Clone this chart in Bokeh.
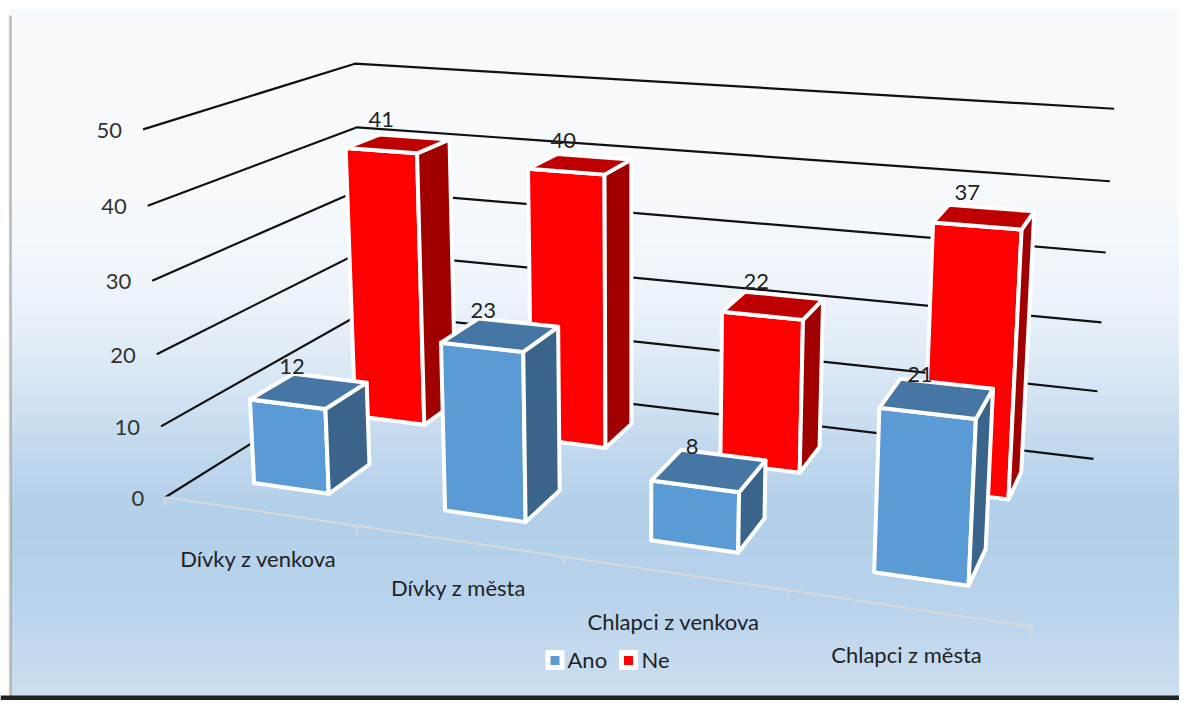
import numpy as np
from bokeh.embed import file_html
from bokeh.models import Range1d
from bokeh.plotting import figure
from bokeh.resources import INLINE
from bokeh.core.properties import value

# ---- data ----
categories = ["Dívky z venkova", "Dívky z města", "Chlapci z venkova", "Chlapci z města"]
ano_values = [12, 23, 8, 21]
ne_values = [41, 40, 22, 37]
series_names = ["Ano", "Ne"]
value_ticks = [0, 10, 20, 30, 40, 50]

# ---- style / layout ----
FONT = "Lato"
W, H = 1179, 700
ANO = dict(front="#5B9BD5", side="#3A6489", top="#4676A3")
NE = dict(front="#FF0000", side="#A00000", top="#BE0000")
X_SPAN = (0.295, 0.695)
Z_ANO = (0.15, 0.355)
Z_NE = (0.66, 0.85)
cat_label_xy = [(258, 558), (458, 587), (673, 621), (906, 654)]

# perspective camera calibrated from the picture: (cat, value, depth) -> (px, py)
calib = [
    ((0, 0, 0), (165, 497)), ((1, 0, 0), (357, 525)), ((2, 0, 0), (562, 556)),
    ((3, 0, 0), (788, 590)), ((4, 0, 0), (1031, 626)), ((0, 10, 0), (160, 426)),
    ((0, 40, 0), (147, 205)), ((0, 50, 0), (143, 129)), ((0, 50, 1), (354, 63)),
    ((0, 40, 1), (357, 127)), ((4, 50, 1), (1114, 108)), ((4, 40, 1), (1109, 181)),
    ((4, 30, 1), (1105, 252)), ((4, 10, 1), (1097, 391)), ((4, 0, 1), (1093, 458)),
]
A, b = [], []
for (cx, cy, cz), (u, v) in calib:
    A.append([cx, cy, cz, 1, 0, 0, 0, 0, -u * cx, -u * cy, -u * cz]); b.append(u)
    A.append([0, 0, 0, 0, cx, cy, cz, 1, -v * cx, -v * cy, -v * cz]); b.append(v)
M = np.linalg.lstsq(np.array(A, float), np.array(b, float), rcond=None)[0]


def proj(cx, cy, cz):
    d = M[8] * cx + M[9] * cy + M[10] * cz + 1
    return ((M[0] * cx + M[1] * cy + M[2] * cz + M[3]) / d,
            (M[4] * cx + M[5] * cy + M[6] * cz + M[7]) / d)


p = figure(width=W, height=H, output_backend="svg", toolbar_location=None,
           x_range=Range1d(0, W), y_range=Range1d(H, 0),
           min_border=0, outline_line_color=None)
p.axis.visible = False
p.grid.visible = False
p.background_fill_color = "white"
p.border_fill_color = "white"

# panel background
stops = [(8, (246, 250, 253)), (200, (246, 250, 253)), (300, (236, 243, 250)), (360, (221, 234, 246)),
         (440, (196, 218, 239)), (510, (178, 208, 234)), (600, (184, 211, 236)), (700, (207, 224, 241))]
sy = np.arange(8, 700, 2)
col = [np.interp(sy, [s[0] for s in stops], [s[1][i] for s in stops]) for i in range(3)]
fills = ["#%02x%02x%02x" % (int(r), int(g), int(bl)) for r, g, bl in zip(*col)]
p.quad(left=11, right=W + 2, top=sy, bottom=696, fill_color=fills, line_color=None)
# shadows
p.quad(left=[8, 9, 10], right=[9, 10, 11], top=15, bottom=696,
       fill_color=["#e4e4e4", "#bcbcbc", "#8f8f8f"], line_color=None)
p.quad(left=0, right=W + 2, top=695, bottom=H + 2, fill_color="#222222", line_color=None)

# walls' gridlines
for t in value_ticks:
    pts = [proj(0, t, 0), proj(0, t, 1), proj(4, t, 1)]
    p.line([a[0] for a in pts], [a[1] for a in pts], line_color="#111111", line_width=2.2)
    x0, y0 = proj(0, t, 0)
    p.text([x0 - 21], [y0 + 1], text=[str(t)], text_font=value(FONT), text_font_size="22px",
           text_color="#333333", text_align="right", text_baseline="middle")

# front category axis
pts = [proj(0, 0, 0), proj(4, 0, 0)]
p.line([a[0] for a in pts], [a[1] for a in pts], line_color="#D9D9D9", line_width=2)
for i in range(5):
    a = proj(i, 0, 0)
    p.line([a[0], a[0]], [a[1], a[1] + 8], line_color="#D9D9D9", line_width=2)


def bar(cat, val, zs, colors):
    x0, x1 = cat + X_SPAN[0], cat + X_SPAN[1]
    z0, z1 = zs
    faces = [
        ([(x0, 0, z0), (x1, 0, z0), (x1, val, z0), (x0, val, z0)], colors["front"]),
        ([(x1, 0, z0), (x1, 0, z1), (x1, val, z1), (x1, val, z0)], colors["side"]),
        ([(x0, val, z0), (x1, val, z0), (x1, val, z1), (x0, val, z1)], colors["top"]),
    ]
    for corners, c in faces:
        q = [proj(*k) for k in corners]
        p.patch([a[0] for a in q], [a[1] for a in q], fill_color=c, line_color="white",
                line_width=4, line_join="round")


for i, v in enumerate(ne_values):
    bar(i, v, Z_NE, NE)
for i, v in enumerate(ano_values):
    bar(i, v, Z_ANO, ANO)

# data labels
for vals, zs in ((ne_values, Z_NE), (ano_values, Z_ANO)):
    for i, v in enumerate(vals):
        x, y = proj(i + sum(X_SPAN) / 2, v, sum(zs) / 2)
        p.text([x], [y], text=[str(v)], text_font=value(FONT), text_font_size="22px",
               text_color="#222222", text_align="center", text_baseline="middle",
               x_offset=-17, y_offset=-24)

# category labels
for name, (x, y) in zip(categories, cat_label_xy):
    p.text([x], [y], text=[name], text_font=value(FONT), text_font_size="22px",
           text_color="#222222", text_align="center", text_baseline="middle")

# legend
for name, c, mx, tx in zip(series_names, (ANO["front"], NE["front"]), (554.5, 628), (567, 641)):
    p.quad(left=[mx - 8], right=[mx + 8], top=[651], bottom=[668], fill_color="white",
           line_color="white", line_width=3, line_join="round")
    p.quad(left=[mx - 4.5], right=[mx + 4.5], top=[655.5], bottom=[664.5], fill_color=c, line_color=None)
    p.text([tx], [659], text=[name], text_font=value(FONT), text_font_size="22px",
           text_color="#222222", text_align="left", text_baseline="middle")

open("out.html", "w").write(file_html(p, INLINE))
